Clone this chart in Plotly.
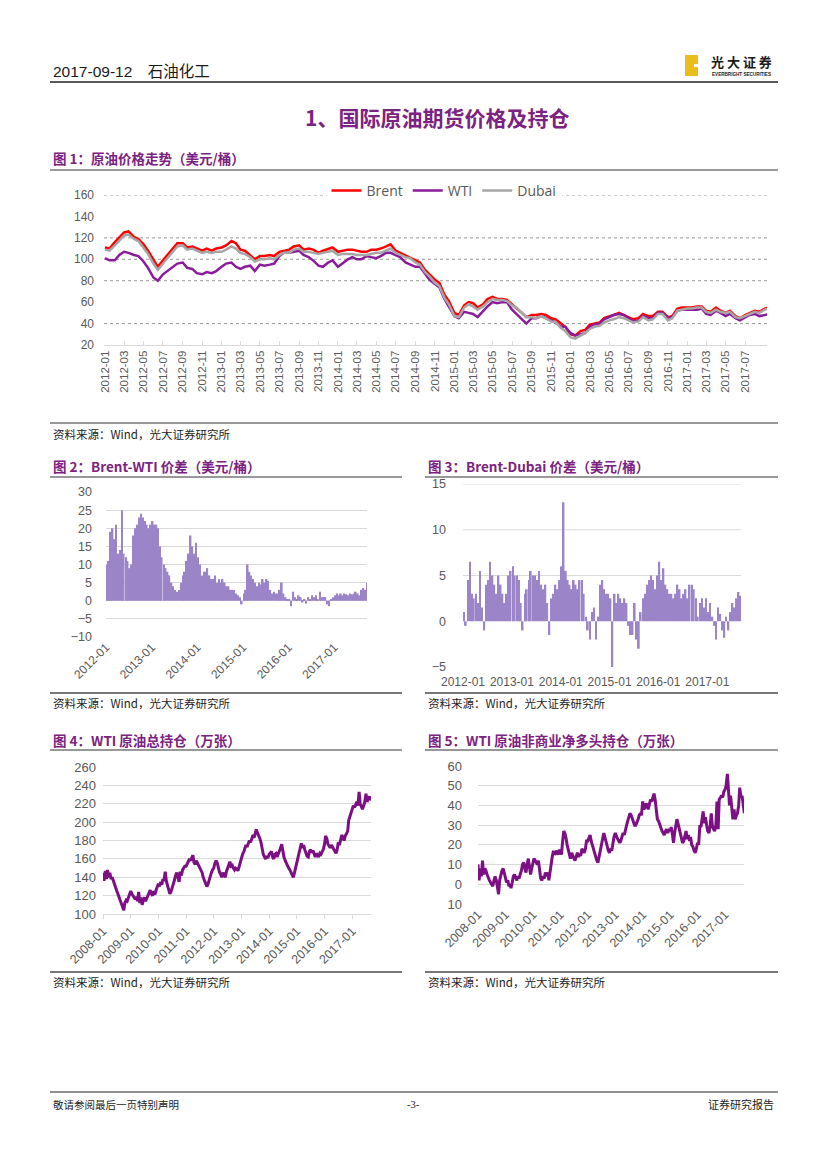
import pandas as pd
import plotly.graph_objects as go

W, H = 827, 1169
OFF = 8  # page body margin of the host page

# ---------------- data (semi-monthly readings) ----------------
brent = [
    111, 110, 116, 120, 125, 126, 121, 119, 114, 108, 99, 93, 99, 104, 111, 115, 115, 111, 112, 110, 108, 110, 108, 110,
    111, 113, 117, 115, 109, 108, 104, 100, 103, 103, 104, 103, 107, 108, 109, 112, 113, 109, 110, 109, 106, 108, 110, 111,
    107, 108, 109, 109, 108, 107, 107, 109, 109, 110, 112, 114, 108, 106, 104, 102, 99, 97, 90, 86, 81, 78, 67, 61,
    50, 48, 57, 60, 59, 55, 58, 63, 65, 63, 63, 62, 58, 55, 50, 46, 48, 48, 49, 48, 45, 44, 40, 37,
    30, 29, 33, 34, 39, 40, 41, 45, 47, 48, 50, 48, 46, 44, 45, 49, 47, 47, 51, 51, 46, 47, 54, 55,
    55, 55, 56, 56, 52, 51, 55, 52, 50, 52, 47, 45, 48, 50, 52, 51, 54, 55,
]
wti = [
    101, 99, 99, 104, 107, 106, 104, 103, 98, 92, 83, 80, 86, 89, 93, 96, 97, 92, 91, 87, 86, 88, 87, 89,
    93, 96, 97, 93, 91, 93, 94, 89, 95, 94, 95, 96, 103, 106, 106, 107, 108, 104, 102, 99, 94, 93, 97, 99,
    93, 96, 100, 102, 100, 100, 103, 102, 101, 103, 106, 106, 104, 102, 97, 95, 93, 93, 86, 81, 77, 74, 63, 56,
    47, 45, 51, 50, 49, 46, 52, 56, 60, 59, 60, 60, 53, 49, 44, 40, 45, 45, 47, 45, 43, 41, 37, 37,
    31, 29, 30, 31, 37, 39, 40, 44, 46, 48, 49, 48, 45, 42, 43, 47, 45, 45, 50, 50, 45, 46, 52, 53,
    53, 53, 53, 54, 49, 48, 52, 50, 47, 49, 45, 43, 46, 48, 49, 47, 48, 49,
]
dubai = [
    109, 108, 113, 117, 122, 123, 119, 117, 111, 105, 96, 90, 96, 101, 107, 112, 113, 109, 110, 108, 106, 107, 106, 107,
    107, 109, 112, 110, 106, 105, 102, 98, 100, 100, 101, 100, 104, 106, 106, 109, 110, 107, 107, 106, 105, 106, 107, 108,
    104, 105, 105, 105, 104, 104, 104, 105, 106, 106, 108, 110, 106, 104, 102, 101, 97, 95, 88, 84, 78, 75, 64, 58,
    47, 46, 55, 58, 56, 53, 56, 60, 63, 62, 62, 61, 57, 55, 50, 46, 46, 45, 47, 45, 42, 41, 36, 33,
    27, 26, 29, 31, 35, 37, 38, 41, 43, 44, 46, 45, 43, 41, 42, 46, 43, 44, 49, 49, 43, 45, 52, 53,
    54, 54, 55, 55, 51, 50, 53, 51, 50, 51, 46, 45, 47, 49, 51, 50, 53, 54,
]
spread_brent_wti = [
    10, 11, 19, 20, 17, 21, 13, 14, 25, 13, 12, 11, 9, 10, 18, 20, 21, 23, 24, 23, 22, 21, 20, 21,
    22, 21, 21, 20, 15, 12, 10, 9, 8, 7, 5, 4, 3, 2.5, 3, 5, 7, 8, 11, 13, 18, 15, 13, 16,
    12, 10, 7, 8, 8, 9, 7, 6, 6, 7, 5, 6, 5, 6, 5, 4, 4, 3, 3, 3, 2, 1.5, 1, -1,
    2, 3, 10, 8, 7, 6, 5, 4, 5, 4.5, 6, 5, 6, 5.5, 3, 2, 2.5, 2, 2, 3, 5, 2, 1, 0.5,
    0.5, -1.5, 2.5, 1, 0.5, 1.5, 1, -0.5, 0.5, -0.8, 1, 0.5, 1.5, 1, 1.5, 0.5, 2.5, 1, 1, 1, -1, -1.5, 0.5, 1,
    1.5, 2, 1.5, 2, 1.5, 2, 1.8, 1.5, 2, 1.8, 2, 2.5, 2, 1.5, 3, 3.5, 3, 5,
]
spread_brent_dubai = [
    1, -0.5, 4.5, 6.5, 3, 2.5, 3, 2, 5.5, 1.5, -1, 4, 4.5, 6.5, 5, 4, 3, 5, 4, 3, 2, 3, 5, 5.5,
    6, 5, 5, 4.5, 2, -1, 3, 3.5, 4.5, 5.5, 5, 5, 4.5, 5.5, 4, 3.5, 4, 2, -1.5, 2.5, 3, 4, 3.5, 4.5,
    6, 13, 5.5, 4.5, 4, 3.5, 4.5, 4, 3.5, 4.5, 4.5, 3, 0.5, -1, -2, 1, 1.5, -2, 0.5, 4, 4.5, 3.5, 3, 3,
    2.5, -5, 3, 2, 3, 2.5, 2, 2.5, 2, -0.5, -1.5, -1.5, 2, -2, -3, 1, 2.5, 3, 4, 4.5, 5, 4.5, 3.5, 5,
    6.5, 4.5, 5.8, 4, 3.5, 3, 3, 2.5, 3, 4, 3.5, 2.5, 3, 3.5, 2.5, 4, 4, 3.5, 2.5, 0.5, 2, 2.5, 1.5, 2.5,
    1, 2, 0.5, -0.5, -2, 1.5, 0.8, -1, -1.8, 0.5, -1, 1, 2, 1.5, 2.5, 3.2, 2.8, 2,
]
wti_open_interest = [
    145, 136, 147, 138, 148, 140, 145, 138, 140, 136, 132, 128, 125, 122, 118, 114, 110, 108, 104, 112, 115, 114, 118, 120,
    125, 122, 120, 118, 116, 119, 114, 124, 112, 118, 110, 115, 118, 114, 117, 120, 124, 126, 122, 120, 125, 121, 126, 130,
    133, 130, 135, 132, 138, 136, 146, 136, 130, 126, 122, 124, 128, 132, 137, 142, 145, 140, 135, 146, 142, 148, 150, 152,
    152, 155, 157, 160, 158, 162, 164, 156, 154, 158, 155, 152, 150, 148, 145, 140, 137, 133, 130, 132, 138, 142, 145, 148,
    150, 155, 158, 156, 150, 146, 143, 140, 145, 142, 140, 146, 150, 155, 157, 152, 153, 150, 148, 150, 149, 147, 152, 156,
    160, 165, 168, 172, 175, 173, 177, 180, 178, 182, 186, 183, 190, 192, 188, 186, 182, 178, 170, 165, 162, 160, 163, 161,
    165, 167, 168, 162, 160, 165, 166, 162, 165, 168, 172, 176, 166, 162, 158, 155, 152, 150, 148, 145, 142, 140, 145, 150,
    158, 162, 170, 174, 177, 172, 175, 170, 166, 163, 162, 168, 170, 167, 169, 165, 162, 166, 164, 162, 166, 165, 168, 170,
    176, 185, 182, 176, 174, 172, 175, 173, 170, 168, 166, 170, 178, 175, 182, 186, 183, 180, 185, 188, 190, 202, 206, 210,
    212, 218, 216, 220, 222, 218, 233, 220, 216, 214, 218, 222, 231, 222, 226, 228, 224, 226,
]
wti_net_long = [
    10, 2, 8, 4, 12, 5, 8, 7, 5, 3, 2, 1, 0, -1, 2, 4, 2, -1, -5, 2, 5, 7, 8, 6,
    4, 1, 2, -1, 0, -2, 1, 4, 5, 3, 2, 4, 3, 5, 7, 10, 11, 8, 6, 10, 13, 9, 5, 8,
    12, 13, 12, 11, 10, 12, 8, 3, 2, 4, 3, 6, 4, 6, 2, 6, 12, 14, 17, 15, 16, 17, 15, 17,
    17, 15, 22, 27, 26, 24, 20, 18, 15, 13, 16, 14, 13, 12, 15, 16, 14, 15, 15, 18, 17, 16, 18, 22,
    22, 24, 25, 22, 20, 18, 15, 13, 12, 11, 14, 17, 20, 23, 26, 24, 21, 19, 17, 16, 18, 17, 21, 24,
    26, 25, 23, 22, 21, 22, 24, 26, 25, 28, 30, 32, 34, 36, 35, 33, 31, 30, 30, 31, 33, 35, 36, 35,
    42, 38, 39, 41, 40, 38, 41, 43, 42, 44, 46, 43, 37, 33, 32, 30, 28, 27, 26, 25, 27, 28, 26, 28,
    27, 29, 25, 21, 26, 30, 33, 31, 28, 27, 24, 21, 22, 25, 27, 23, 25, 22, 24, 20, 19, 17, 16, 18,
    21, 20, 30, 29, 33, 37, 31, 34, 30, 27, 26, 29, 36, 30, 28, 27, 30, 42, 28, 43, 44, 45, 44, 47,
    48, 50, 56, 50, 40, 45, 38, 33, 38, 33, 35, 36, 40, 49, 44, 45, 40, 36,
]

grid_chart1 = [40, 80, 100, 120, 160]
grid_chart3 = [5, 10, 15]
y5_ticks = [-10, 0, 10, 20, 30, 40, 50, 60]
y5_labels = ["10", "0", "10", "20", "30", "40", "50", "60"]

PURPLE_T = "#7B2282"
GRAY_T = "#595959"
LATIN = "Liberation Sans, Arial, Noto Sans CJK SC, sans-serif"
CJK = "Noto Sans CJK SC, sans-serif"


def semi(start, n, shift_days=0):
    return pd.date_range(start, periods=n, freq="SMS") + pd.Timedelta(days=shift_days)


def px(x):
    return (x - OFF) / W


def py(y):
    return 1 - (y - OFF) / H


fig = go.Figure()

fig.add_trace(go.Scatter(x=semi("2012-01-01", len(brent)), y=brent, name="Brent", mode="lines",
                         line=dict(color="#FF0000", width=2.5), xaxis="x", yaxis="y"))
fig.add_trace(go.Scatter(x=semi("2012-01-01", len(wti)), y=wti, name="WTI", mode="lines",
                         line=dict(color="#8A1B9A", width=2.5), xaxis="x", yaxis="y"))
fig.add_trace(go.Scatter(x=semi("2012-01-01", len(dubai)), y=dubai, name="Dubai", mode="lines",
                         line=dict(color="#A6A6A6", width=2.5), xaxis="x", yaxis="y"))

fig.add_trace(go.Bar(x=semi("2012-01-01", len(spread_brent_wti), 7), y=spread_brent_wti,
                     marker=dict(color="#9C84C8", line=dict(width=0)), showlegend=False,
                     xaxis="x2", yaxis="y2"))
fig.add_trace(go.Bar(x=semi("2012-01-01", len(spread_brent_dubai), 7), y=spread_brent_dubai,
                     marker=dict(color="#9C84C8", line=dict(width=0)), showlegend=False,
                     xaxis="x3", yaxis="y3"))
fig.add_trace(go.Scatter(x=semi("2008-01-01", len(wti_open_interest)), y=wti_open_interest, mode="lines",
                         line=dict(color="#7D0F84", width=3), showlegend=False, xaxis="x4", yaxis="y4"))
fig.add_trace(go.Scatter(x=semi("2008-01-01", len(wti_net_long)), y=wti_net_long, mode="lines",
                         line=dict(color="#7D0F84", width=3), showlegend=False, xaxis="x5", yaxis="y5"))

tickf = dict(family=LATIN, size=12, color=GRAY_T)

shapes = []
for v in grid_chart1:
    shapes.append(dict(type="line", xref="x domain", yref="y", x0=0, x1=1, y0=v, y1=v,
                       line=dict(color="#9A9A9A", width=1, dash="dot"), layer="below"))
for v in grid_chart3:
    shapes.append(dict(type="line", xref="x3 domain", yref="y3", x0=0, x1=1, y0=v, y1=v,
                       line=dict(color="#D9D9D9", width=1), layer="below"))


def hline(y, x0, x1, color="#333333", width=1):
    shapes.append(dict(type="line", xref="paper", yref="paper", x0=px(x0), x1=px(x1),
                       y0=py(y), y1=py(y), line=dict(color=color, width=width)))


hline(82, 50, 778, "#222222", 1.6)
hline(170, 50, 778, "#333333", 1.2)
hline(423, 50, 778, "#333333", 1.2)
hline(477, 50, 402, "#333333", 1.2)
hline(477, 425, 778, "#333333", 1.2)
hline(693, 50, 402, "#777777", 2)
hline(693, 425, 778, "#777777", 2)
hline(750, 50, 402, "#333333", 1.2)
hline(750, 425, 778, "#333333", 1.2)
hline(972, 50, 402, "#777777", 2)
hline(972, 425, 778, "#777777", 2)
hline(1092, 50, 778, "#222222", 1.2)

# logo block
shapes.append(dict(type="rect", xref="paper", yref="paper", x0=px(685), x1=px(698), y0=py(76), y1=py(55),
                   fillcolor="#E9BE1C", line=dict(width=0)))
shapes.append(dict(type="rect", xref="paper", yref="paper", x0=px(694), x1=px(698), y0=py(67), y1=py(64),
                   fillcolor="#FFFFFF", line=dict(width=0)))

ann = []


def txt(s, x, y, size, color, xanchor="left", family=CJK):
    ann.append(dict(text=s, x=px(x), y=py(y), xref="paper", yref="paper", xanchor=xanchor,
                    yanchor="middle", showarrow=False, font=dict(family=family, size=size, color=color)))


txt("2017-09-12　石油化工", 51, 72, 15.5, "#1A1A1A", family=LATIN)
txt("<b>光 大 证 券</b>", 741, 62, 13, "#1A1A1A", "center")
txt("<b>EVERBRIGHT SECURITIES</b>", 741, 74, 4.6, "#1A1A1A", "center", LATIN)
txt("<b>1、国际原油期货价格及持仓</b>", 437, 117, 21, PURPLE_T, "center")
txt("<b>图 1：原油价格走势（美元/桶）</b>", 51, 158, 13.5, PURPLE_T)
txt("<b>图 2：Brent-WTI 价差（美元/桶）</b>", 51, 466, 13.5, PURPLE_T)
txt("<b>图 3：Brent-Dubai 价差（美元/桶）</b>", 426, 466, 13.5, PURPLE_T)
txt("<b>图 4：WTI 原油总持仓（万张）</b>", 51, 740, 13.5, PURPLE_T)
txt("<b>图 5：WTI 原油非商业净多头持仓（万张）</b>", 426, 740, 13.5, PURPLE_T)
src = "资料来源：Wind，光大证券研究所"
txt(src, 51, 434, 11.5, "#222222")
txt(src, 51, 703, 11.5, "#222222")
txt(src, 426, 703, 11.5, "#222222")
txt(src, 51, 982, 11.5, "#222222")
txt(src, 426, 982, 11.5, "#222222")
txt("敬请参阅最后一页特别声明", 51, 1104, 10.5, "#222222")
txt("-3-", 413, 1104, 10.5, "#222222", "center", "Liberation Serif, serif")
txt("证券研究报告", 776, 1104, 11, "#222222", "right")

fig.update_layout(
    width=W, height=H, autosize=False,
    margin=dict(l=0, r=0, t=0, b=0, pad=0, autoexpand=False),
    paper_bgcolor="white", plot_bgcolor="white",
    bargap=0.08,
    showlegend=True,
    legend=dict(orientation="h", x=px(444), xanchor="center", y=py(191), yanchor="middle",
                font=dict(family="Open Sans, sans-serif", size=14, color=GRAY_T),
                bgcolor="white", itemwidth=30, tracegroupgap=0),
    shapes=shapes,
    annotations=ann,
    # chart 1
    xaxis=dict(domain=[px(104), px(767)], anchor="y", type="date", automargin=False,
               range=["2011-12-29", "2017-09-08"],
               tickvals=list(pd.date_range("2012-01-01", "2017-07-01", freq="2MS")),
               tickformat="%Y-%m", tickangle=-90, tickfont=dict(family=LATIN, size=11.5, color=GRAY_T),
               showgrid=False, zeroline=False, showline=True, linecolor="#D9D9D9",
               ticks="inside", ticklen=4, tickcolor="#D9D9D9"),
    yaxis=dict(domain=[py(345), py(195)], anchor="x", range=[20, 160], dtick=20, tick0=20, automargin=False,
               showgrid=False, zeroline=False, ticks="", ticklabelstandoff=9, tickfont=tickf),
    # chart 2
    xaxis2=dict(domain=[px(106), px(367)], anchor="y2", type="date", automargin=False,
                range=["2012-01-01", "2017-09-20"], dtick="M12", tick0="2012-01-01",
                tickformat="%Y-%m", tickangle=-45, tickfont=dict(family=LATIN, size=12, color=GRAY_T),
                showgrid=False, zeroline=False, showline=False, ticks=""),
    yaxis2=dict(domain=[py(637), py(492)], anchor="x2", range=[-10, 30], dtick=5, automargin=False,
                showgrid=True, gridcolor="#D9D9D9", zeroline=False, ticks="",
                ticklabelstandoff=13, tickfont=dict(family=LATIN, size=12.5, color=GRAY_T)),
    # chart 3
    xaxis3=dict(domain=[px(463), px(741)], anchor="y3", type="date", automargin=False,
                range=["2012-01-01", "2017-09-10"], dtick="M12", tick0="2012-01-01",
                tickformat="%Y-%m", tickangle=0, tickfont=dict(family=LATIN, size=12, color=GRAY_T),
                showgrid=False, zeroline=False, showline=False, ticks="", ticklabelstandoff=6),
    yaxis3=dict(domain=[py(667), py(484)], anchor="x3", range=[-5, 15], dtick=5, tick0=-5, automargin=False,
                showgrid=False, zeroline=False, ticks="", ticklabelstandoff=16,
                tickfont=dict(family=LATIN, size=12.5, color=GRAY_T)),
    # chart 4
    xaxis4=dict(domain=[px(103), px(371)], anchor="y4", type="date", automargin=False,
                range=["2008-01-01", "2017-09-05"], dtick="M12", tick0="2008-01-01",
                tickformat="%Y-%m", tickangle=-45, tickfont=dict(family=LATIN, size=12.5, color=GRAY_T),
                showgrid=False, zeroline=False, showline=True, linecolor="#D9D9D9",
                ticks="outside", ticklen=4, tickcolor="#D9D9D9"),
    yaxis4=dict(domain=[py(914), py(767)], anchor="x4", range=[100, 260], dtick=20, tick0=100, automargin=False,
                showgrid=True, gridcolor="#D9D9D9", zeroline=False, ticks="",
                ticklabelstandoff=6, tickfont=dict(family=LATIN, size=13, color=GRAY_T)),
    # chart 5
    xaxis5=dict(domain=[px(478), px(744)], anchor="y5", type="date", automargin=False,
                range=["2008-01-01", "2017-09-10"], dtick="M12", tick0="2008-01-01",
                tickformat="%Y-%m", tickangle=-45, tickfont=dict(family=LATIN, size=12.5, color=GRAY_T),
                showgrid=False, zeroline=False, showline=False, ticks=""),
    yaxis5=dict(domain=[py(904), py(766)], anchor="x5", range=[-10, 60], automargin=False,
                tickvals=y5_ticks, ticktext=y5_labels,
                showgrid=True, gridcolor="#D9D9D9", zeroline=False, ticks="",
                ticklabelstandoff=15, tickfont=dict(family=LATIN, size=13, color=GRAY_T)),
)

fig.write_html("out.html")
